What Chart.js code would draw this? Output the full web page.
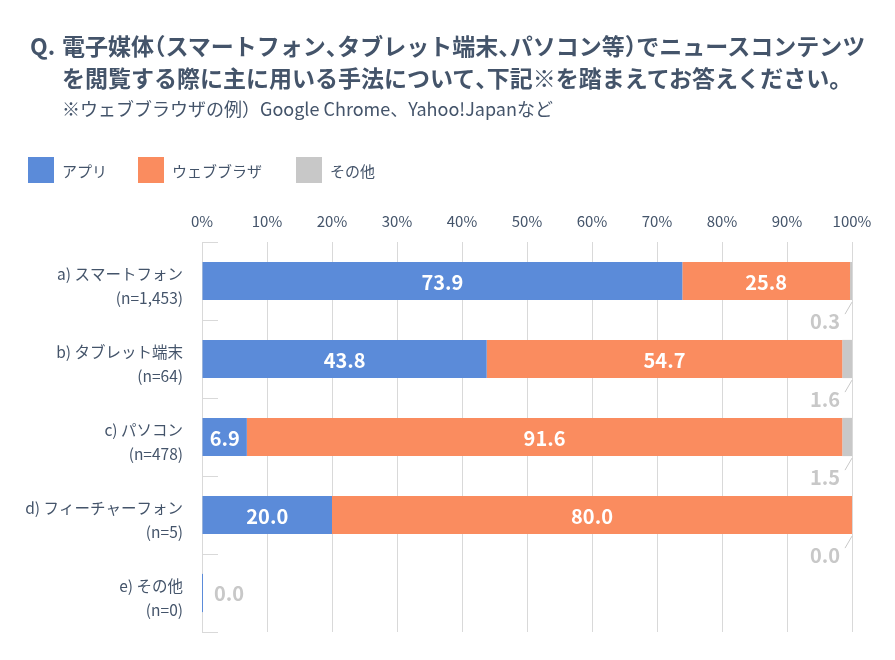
<!DOCTYPE html>
<html lang="ja">
<head>
<meta charset="utf-8">
<script src="https://cdn.jsdelivr.net/npm/chart.js@4"></script>
<style>
  body { margin: 0; background: #fff; font-family: "Noto Sans CJK JP", "Noto Sans", sans-serif; color: #44546a; }
  #wrap { position: relative; width: 895px; height: 660px; overflow: hidden; }
  #chart { position: absolute; left: 0; top: 0; }
  .title { position: absolute; left: 30px; top: 29px; font-size: 23px; font-weight: bold; line-height: 32px; white-space: nowrap; }
  .title .q { display: inline-block; width: 32px; }
  .title .l2 { padding-left: 32px; }
  .title .p { font-feature-settings: "halt"; }
  .sub { position: absolute; left: 62px; top: 97px; font-size: 18px; line-height: 22px; white-space: nowrap; }
  .legend { position: absolute; left: 28px; top: 157px; display: flex; font-size: 15px; }
  .legend .item { display: flex; align-items: center; }
  .legend .box { width: 26px; height: 26px; margin-right: 8px; }
</style>
</head>
<body>
<div id="wrap">
  <canvas id="chart" width="895" height="660"></canvas>
  <div class="title"><span class="q">Q.</span>電子媒体<span class="p">（</span>スマートフォン<span class="p">、</span>タブレット端末<span class="p">、</span>パソコン等<span class="p">）</span>でニュースコンテンツ<br><span class="l2">を閲覧する際に主に用いる手法について<span class="p">、</span>下記※を踏まえてお答えください<span class="p">。</span></span></div>
  <div class="sub">※ウェブブラウザの例）Google Chrome、Yahoo!Japanなど</div>
  <div class="legend" id="legend"></div>
</div>
<script>
const categories = [
    ['a) スマートフォン', '(n=1,453)'],
    ['b) タブレット端末', '(n=64)'],
    ['c) パソコン', '(n=478)'],
    ['d) フィーチャーフォン', '(n=5)'],
    ['e) その他', '(n=0)']
];
const seriesNames = ['アプリ', 'ウェブブラザ', 'その他'];
const appValues = [73.9, 43.8, 6.9, 20.0, 0];
const browserValues = [25.8, 54.7, 91.6, 80.0, 0];
const otherValues = [0.3, 1.6, 1.5, 0.0, 0];
const seriesColors = ['#5b8bd9', '#fa8c5f', '#c8c8c8'];
const legendWidths = [110, 158, 100];

const gridColor = '#d9d9d9';
const textColor = '#44546a';
const fontFamily = '"Noto Sans CJK JP", "Noto Sans", sans-serif';

// legend (html)
const legendEl = document.getElementById('legend');
seriesNames.forEach((name, i) => {
    const item = document.createElement('div');
    item.className = 'item';
    item.style.width = legendWidths[i] + 'px';
    item.innerHTML = '<span class="box" style="background:' + seriesColors[i] + '"></span>' + name;
    legendEl.appendChild(item);
});

const labelPlugin = {
    id: 'labels',
    beforeDatasetsDraw(chart) {
        const { ctx, chartArea } = chart;
        const band = (chartArea.bottom - chartArea.top) / categories.length;
        ctx.save();
        ctx.strokeStyle = gridColor;
        ctx.lineWidth = 1;
        for (let i = 0; i <= categories.length; i++) {
            const y = Math.round(chartArea.top + i * band) + 0.5;
            ctx.beginPath();
            ctx.moveTo(chartArea.left, y);
            ctx.lineTo(chartArea.left + 16, y);
            ctx.stroke();
        }
        ctx.restore();
    },
    afterDatasetsDraw(chart) {
        const { ctx, chartArea } = chart;
        ctx.save();
        ctx.font = 'bold 20px ' + fontFamily;
        ctx.textBaseline = 'middle';
        categories.forEach((c, i) => {
            const total = appValues[i] + browserValues[i] + otherValues[i];
            const appBar = chart.getDatasetMeta(0).data[i];
            if (total === 0) {
                ctx.strokeStyle = seriesColors[0];
                ctx.beginPath();
                ctx.moveTo(appBar.base + 0.5, appBar.y - appBar.height / 2);
                ctx.lineTo(appBar.base + 0.5, appBar.y + appBar.height / 2);
                ctx.stroke();
                ctx.fillStyle = seriesColors[2];
                ctx.textAlign = 'left';
                ctx.fillText(otherValues[i].toFixed(1), chartArea.left + 12, appBar.y);
                return;
            }
            [0, 1].forEach(d => {
                const v = chart.data.datasets[d].data[i];
                if (v <= 0) return;
                const el = chart.getDatasetMeta(d).data[i];
                ctx.fillStyle = '#fff';
                ctx.textAlign = 'center';
                ctx.fillText(v.toFixed(1), (el.x + el.base) / 2, el.y + 1);
            });
            const oth = chart.getDatasetMeta(2).data[i];
            const endX = Math.min(oth.x, chartArea.right);
            const bottom = oth.y + oth.height / 2;
            ctx.strokeStyle = seriesColors[2];
            ctx.lineWidth = 1;
            ctx.beginPath();
            ctx.moveTo(endX, bottom + 2);
            ctx.lineTo(endX - 7, bottom + 14);
            ctx.stroke();
            ctx.fillStyle = seriesColors[2];
            ctx.textAlign = 'right';
            ctx.fillText(otherValues[i].toFixed(1), endX - 12, bottom + 21);
        });
        ctx.restore();
    }
};

new Chart(document.getElementById('chart'), {
    type: 'bar',
    data: {
        labels: categories,
        datasets: [
            { label: seriesNames[0], data: appValues, backgroundColor: seriesColors[0] },
            { label: seriesNames[1], data: browserValues, backgroundColor: seriesColors[1] },
            { label: seriesNames[2], data: otherValues, backgroundColor: seriesColors[2] }
        ]
    },
    options: {
        indexAxis: 'y',
        responsive: false,
        animation: false,
        layout: { padding: { top: 200, left: 0, right: 43, bottom: 28 } },
        datasets: { bar: { categoryPercentage: 1, barPercentage: 0.49 } },
        plugins: {
            legend: { display: false },
            tooltip: { enabled: false }
        },
        scales: {
            x: {
                position: 'top',
                stacked: true,
                min: 0,
                max: 100,
                afterFit(scale) {
                    scale.height = 42;
                    scale.paddingLeft = 0;
                    scale.paddingRight = 0;
                },
                grid: { color: gridColor, drawTicks: false },
                border: { display: false },
                ticks: {
                    stepSize: 10,
                    padding: 12,
                    color: textColor,
                    font: { family: fontFamily, size: 15 },
                    callback: v => v + '%'
                }
            },
            y: {
                stacked: true,
                afterFit(scale) {
                    scale.width = 202;
                    scale.paddingTop = 0;
                    scale.paddingBottom = 0;
                },
                grid: { display: false, drawTicks: false },
                border: { display: true, color: gridColor },
                ticks: {
                    padding: 19,
                    labelOffset: 5,
                    color: textColor,
                    font: { family: fontFamily, size: 15.5, lineHeight: 1.5 }
                }
            }
        }
    },
    plugins: [labelPlugin]
});
</script>
</body>
</html>
